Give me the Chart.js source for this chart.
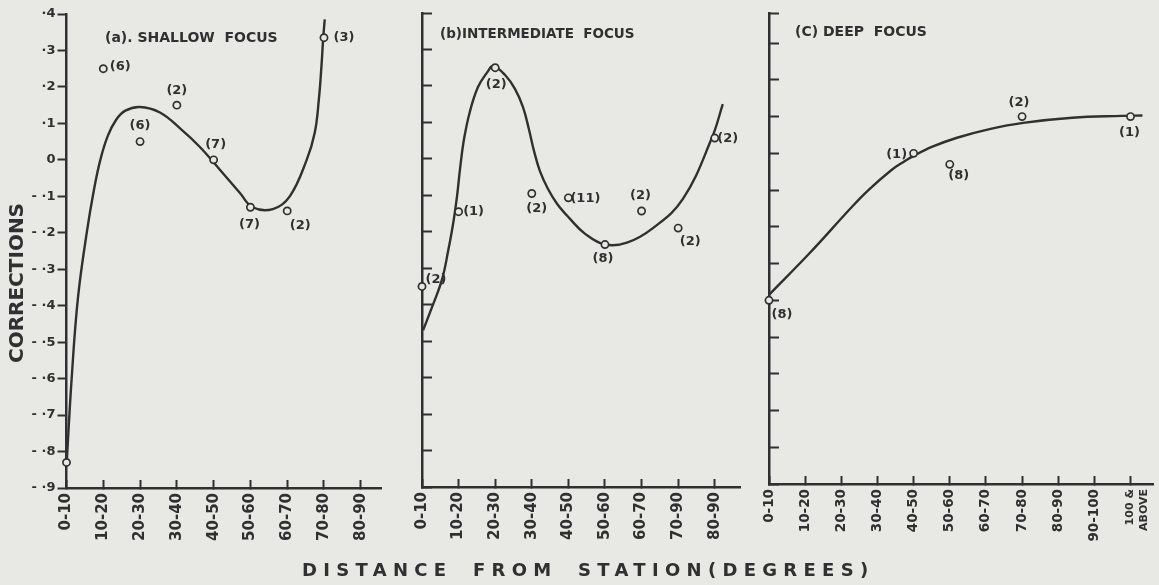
<!DOCTYPE html>
<html>
<head>
<meta charset="utf-8">
<title>Corrections vs distance from station</title>
<script src="https://cdn.jsdelivr.net/npm/chart.js@4.4.1/dist/chart.umd.min.js"></script>
<style>
  html, body { margin: 0; padding: 0; }
  body { width: 1159px; height: 585px; background: #e8e8e4; position: relative; overflow: hidden; }
  canvas { position: absolute; top: 0; }
  #xTitle { position: absolute; left: 302px; top: 559px; font-family: "DejaVu Sans"; font-size: 18px; font-weight: bold;
            letter-spacing: 6.3px; word-spacing: 8px; color: #303030; white-space: nowrap; }
</style>
</head>
<body>
<canvas id="shallow" width="400" height="585" style="left:0px"></canvas>
<canvas id="intermediate" width="380" height="585" style="left:385px"></canvas>
<canvas id="deep" width="419" height="585" style="left:740px"></canvas>
<div id="xTitle">DISTANCE FROM STATION(DEGREES)</div>
<script>
// values
var correctionTicks = [0.4, 0.3, 0.2, 0.1, 0, -0.1, -0.2, -0.3, -0.4, -0.5, -0.6, -0.7, -0.8, -0.9];
var correctionTickLabels = ['·4', '·3', '·2', '·1', '0', '- ·1', '- ·2', '- ·3', '- ·4', '- ·5', '- ·6', '- ·7', '- ·8', '- ·9'];

// (a) shallow focus
var shallowCategories = ['0-10', '10-20', '20-30', '30-40', '40-50', '50-60', '60-70', '70-80', '80-90'];
var shallowObsX = [0, 1, 2, 3, 4, 5, 6, 7];
var shallowObs = [-0.83, 0.25, 0.05, 0.15, 0.0, -0.13, -0.14, 0.335];
var shallowCounts = [null, 6, 6, 2, 7, 7, 2, 3];
var shallowCurveX = [0.0, 0.14, 0.31, 0.55, 0.75, 0.92, 1.12, 1.35, 1.6, 1.99, 2.54, 3.08, 3.62, 4.17, 4.71, 5.06, 5.61, 6.07, 6.53, 6.75, 6.86, 6.93, 6.98, 7.02];
var shallowCurveY = [-0.84, -0.60, -0.38, -0.20, -0.08, 0.0, 0.065, 0.11, 0.135, 0.145, 0.13, 0.087, 0.036, -0.027, -0.09, -0.13, -0.135, -0.10, 0.0, 0.075, 0.165, 0.255, 0.335, 0.385];

// (b) intermediate focus
var intermediateCategories = ['0-10', '10-20', '20-30', '30-40', '40-50', '50-60', '60-70', '70-90', '80-90'];
var intermediateObsX = [0, 1, 2, 3, 4, 5, 6, 7, 8];
var intermediateObs = [-0.35, -0.145, 0.25, -0.095, -0.107, -0.235, -0.143, -0.19, 0.057];
var intermediateCounts = [2, 1, 2, 2, 11, 8, 2, 2, 2];
var intermediateCurveX = [0.03, 0.30, 0.55, 0.71, 0.85, 0.96, 1.04, 1.15, 1.31, 1.53, 1.80, 1.94, 2.27, 2.54, 2.76, 2.92, 3.06, 3.22, 3.44, 3.69, 4.04, 4.45, 5.0, 5.6, 6.31, 7.13, 7.92, 8.22];
var intermediateCurveY = [-0.47, -0.40, -0.33, -0.255, -0.178, -0.10, -0.027, 0.055, 0.13, 0.197, 0.24, 0.255, 0.23, 0.192, 0.142, 0.082, 0.022, -0.033, -0.082, -0.123, -0.164, -0.205, -0.235, -0.23, -0.19, -0.11, 0.057, 0.15];

// (c) deep focus
var deepCategories = ['0-10', '10-20', '20-30', '30-40', '40-50', '50-60', '60-70', '70-80', '80-90', '90-100', ['100 &', 'ABOVE']];
var deepObsX = [0, 4, 5, 7, 10];
var deepObs = [-0.40, 0.0, -0.03, 0.10, 0.10];
var deepCounts = [8, 1, 8, 2, 1];
var deepCurveX = [0.0, 1.12, 2.29, 2.75, 3.38, 3.71, 4.0, 4.52, 5.2, 6.1, 7.03, 8.39, 9.75, 10.33];
var deepCurveY = [-0.385, -0.272, -0.146, -0.10, -0.046, -0.024, -0.007, 0.018, 0.0425, 0.066, 0.083, 0.097, 0.102, 0.103];

var INK = '#303030';
var PAPER = '#e8e8e4';
var FONT = '"DejaVu Sans", sans-serif';

Chart.defaults.font.family = FONT;
Chart.defaults.font.weight = 'bold';
Chart.defaults.color = INK;

// "(n)" next to each plotted mean
var countLabels = {
  id: 'countLabels',
  afterDatasetsDraw: function (chart) {
    var ctx = chart.ctx;
    chart.data.datasets.forEach(function (ds, i) {
      if (!ds.counts) return;
      var meta = chart.getDatasetMeta(i);
      ctx.save();
      ctx.font = 'bold 13px ' + FONT;
      ctx.fillStyle = INK;
      ctx.textAlign = 'center';
      ctx.textBaseline = 'middle';
      meta.data.forEach(function (pt, j) {
        if (ds.counts[j] == null) return;
        var off = ds.labelOffsets[j];
        ctx.fillText('(' + ds.counts[j] + ')', pt.x + off[0], pt.y + off[1]);
      });
      ctx.restore();
    });
  }
};

// panel captions and the vertical axis name
var panelText = {
  id: 'panelText',
  afterDraw: function (chart, args, opts) {
    var ctx = chart.ctx;
    (opts.items || []).forEach(function (it) {
      ctx.save();
      ctx.translate(it.x, it.y);
      if (it.rotate) ctx.rotate(it.rotate);
      ctx.font = it.font;
      ctx.fillStyle = INK;
      ctx.textAlign = it.align || 'left';
      ctx.textBaseline = 'middle';
      ctx.fillText(it.text, 0, 0);
      ctx.restore();
    });
  }
};

Chart.register(countLabels, panelText);

function makePanel(id, p) {
  var pts = p.obsX.map(function (x, i) { return {x: x, y: p.obs[i]}; });
  var curve = p.curveX.map(function (x, i) { return {x: x, y: p.curveY[i]}; });
  var yTicks = p.yTicks;

  return new Chart(document.getElementById(id), {
    type: 'scatter',
    data: {
      datasets: [{
        data: pts,
        counts: p.counts,
        labelOffsets: p.labelOffsets,
        pointRadius: 3.6,
        pointBorderWidth: 1.7,
        pointBorderColor: INK,
        pointBackgroundColor: PAPER,
        clip: false
      }, {
        data: curve,
        showLine: true,
        pointRadius: 0,
        borderColor: INK,
        borderWidth: 2.4,
        tension: 0.4,
        fill: false
      }]
    },
    options: {
      responsive: false,
      animation: false,
      events: [],
      layout: { padding: p.padding },
      plugins: {
        legend: { display: false },
        tooltip: { enabled: false },
        panelText: { items: p.texts }
      },
      scales: {
        x: {
          type: 'linear',
          min: 0,
          max: p.xMax,
          afterBuildTicks: function (s) {
            s.ticks = p.categories.map(function (c, i) { return {value: i}; });
          },
          afterFit: function (s) { s.height = 60; s.paddingLeft = 0; s.paddingRight = 0; },
          border: { display: true, color: INK, width: 2.5 },
          grid: { drawOnChartArea: false, drawTicks: true, tickLength: -8, tickWidth: 2, tickColor: INK },
          ticks: {
            autoSkip: false,
            minRotation: 90,
            maxRotation: 90,
            padding: 13,
            color: INK,
            font: function (c) {
              return Array.isArray(p.categories[c.index]) ? {size: 11} : {size: p.xFontSize};
            },
            callback: function (v, i) { return p.categories[i]; }
          }
        },
        y: {
          type: 'linear',
          min: -0.9,
          max: p.yMax,
          afterBuildTicks: function (s) {
            s.ticks = yTicks.map(function (v) { return {value: v}; });
          },
          afterFit: function (s) { s.width = p.yWidth; },
          border: { display: true, color: INK, width: 2.5 },
          grid: { drawOnChartArea: false, drawTicks: true, tickLength: p.yTickLength, tickWidth: 2, tickColor: INK },
          ticks: {
            display: p.showYLabels,
            padding: 2,
            color: INK,
            font: { size: 13 },
            callback: function (v, i) { return correctionTickLabels[i]; }
          }
        }
      }
    }
  });
}

makePanel('shallow', {
  categories: shallowCategories,
  obsX: shallowObsX, obs: shallowObs, counts: shallowCounts,
  curveX: shallowCurveX, curveY: shallowCurveY,
  labelOffsets: [null, [17, -2], [0, -16], [0, -15], [2, -15], [-1, 17], [13, 15], [20, 0]],
  xMax: 8.55, yMax: 0.4, yTicks: correctionTicks, xFontSize: 15,
  yWidth: 66.5, yTickLength: 9, showYLabels: true,
  padding: { left: 0, right: 19, top: 14, bottom: 37 },
  texts: [
    { text: '(a). SHALLOW  FOCUS', x: 105, y: 38, font: 'bold 14px ' + FONT },
    { text: 'CORRECTIONS', x: 18, y: 283, rotate: -Math.PI / 2, align: 'center', font: 'bold 20px ' + FONT }
  ]
});

makePanel('intermediate', {
  categories: intermediateCategories,
  obsX: intermediateObsX, obs: intermediateObs, counts: intermediateCounts,
  curveX: intermediateCurveX, curveY: intermediateCurveY,
  labelOffsets: [[14, -7], [15, 0], [1, 17], [5, 15], [17, 1], [-2, 14], [-1, -15], [12, 14], [13, 1]],
  xMax: 8.69, yMax: 0.4, yTicks: correctionTicks, xFontSize: 15,
  yWidth: 37, yTickLength: -10, showYLabels: false,
  padding: { left: 0, right: 25, top: 13, bottom: 38 },
  texts: [
    { text: '(b)INTERMEDIATE  FOCUS', x: 55, y: 34, font: 'bold 13.5px ' + FONT }
  ]
});

makePanel('deep', {
  categories: deepCategories,
  obsX: deepObsX, obs: deepObs, counts: deepCounts,
  curveX: deepCurveX, curveY: deepCurveY,
  labelOffsets: [[13, 14], [-17, 1], [9, 11], [-3, -14], [-1, 16]],
  xMax: 10.63, yMax: 0.382, yTicks: [0.382].concat(correctionTicks.slice(1)), xFontSize: 13.5,
  yWidth: 29, yTickLength: -10, showYLabels: false,
  padding: { left: 0, right: 0, top: 13, bottom: 41 },
  texts: [
    { text: '(C) DEEP  FOCUS', x: 55, y: 32, font: 'bold 14px ' + FONT }
  ]
});
</script>
</body>
</html>
